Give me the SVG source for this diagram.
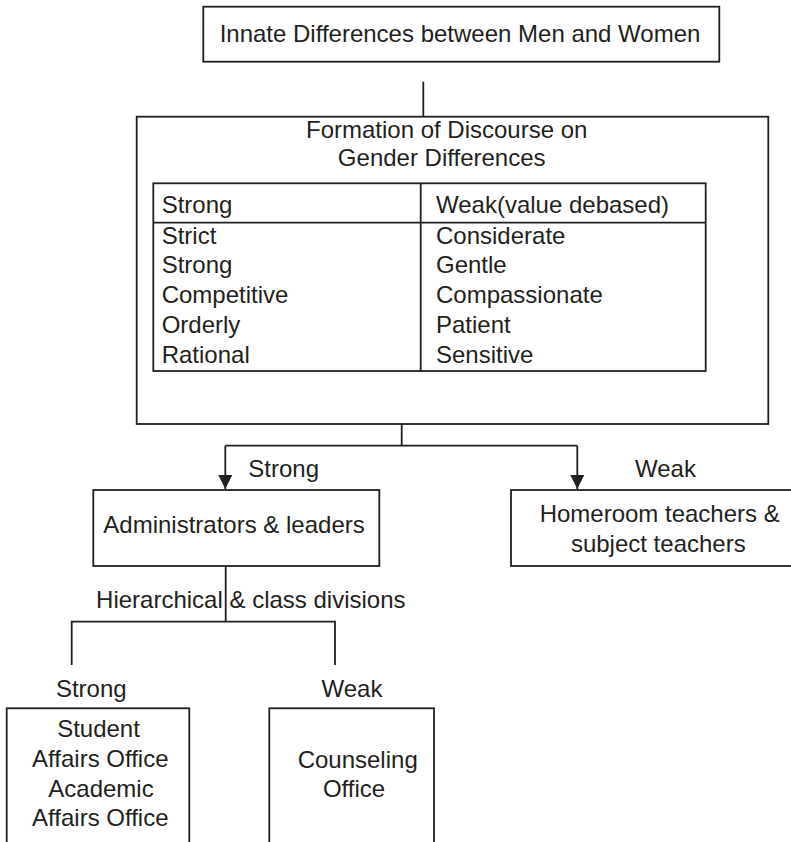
<svg xmlns="http://www.w3.org/2000/svg" width="791" height="842" viewBox="0 0 791 842">
<defs>
<style>
.box{fill:#fff;stroke:#231f20;stroke-width:1.8}
.ln{fill:none;stroke:#231f20;stroke-width:1.8}
.t{font-family:"Liberation Sans",Arial,sans-serif;font-size:24px;fill:#231f20}
.c{text-anchor:middle}
</style>
<marker id="arr" markerUnits="userSpaceOnUse" markerWidth="14" markerHeight="14" viewBox="0 0 14 14" refX="14" refY="7" orient="auto">
<path d="M0,0 L14,7 L0,14 Z" fill="#231f20"/>
</marker>
</defs>
<rect width="791" height="842" fill="#fff"/>
<g id="connectors">
<line class="ln" x1="423.3" y1="81.7" x2="423.3" y2="116.7"/>
<line class="ln" x1="401.7" y1="424" x2="401.7" y2="445.7"/>
<line class="ln" x1="225.3" y1="445.7" x2="577.3" y2="445.7"/>
<line class="ln" x1="225.3" y1="445.7" x2="225.3" y2="489" marker-end="url(#arr)"/>
<line class="ln" x1="577.3" y1="445.7" x2="577.3" y2="489" marker-end="url(#arr)"/>
<line class="ln" x1="225.7" y1="566" x2="225.7" y2="621.7"/>
<polyline class="ln" points="71.7,665 71.7,621.7 335,621.7 335,665"/>
<text class="t" x="248.3" y="477">Strong</text>
<text class="t" x="635" y="477">Weak</text>
<text class="t c" x="250.8" y="608.3">Hierarchical &amp; class divisions</text>
<text class="t c" x="91.3" y="697">Strong</text>
<text class="t c" x="352" y="697">Weak</text>
</g>
<g id="node-innate">
<rect class="box" x="203.3" y="6.7" width="516" height="55"/>
<text class="t c" x="460" y="41.7">Innate Differences between Men and Women</text>
</g>
<g id="node-formation">
<rect class="box" x="136.7" y="116.7" width="631.6" height="307.3"/>
<text class="t c" x="446.7" y="138">Formation of Discourse on</text>
<text class="t c" x="441.7" y="166">Gender Differences</text>
<rect class="box" x="153.3" y="183.3" width="552.4" height="187.7"/>
<line class="ln" x1="153.3" y1="222.7" x2="705.7" y2="222.7"/>
<line class="ln" x1="420.7" y1="183.3" x2="420.7" y2="371"/>
<text class="t" x="161.7" y="213.3">Strong</text>
<text class="t" x="161.7" y="244">Strict</text>
<text class="t" x="161.7" y="273">Strong</text>
<text class="t" x="161.7" y="303">Competitive</text>
<text class="t" x="161.7" y="333">Orderly</text>
<text class="t" x="161.7" y="362.5">Rational</text>
<text class="t" x="436" y="213.3">Weak(value debased)</text>
<text class="t" x="436" y="244">Considerate</text>
<text class="t" x="436" y="273">Gentle</text>
<text class="t" x="436" y="303">Compassionate</text>
<text class="t" x="436" y="333">Patient</text>
<text class="t" x="436" y="362.5">Sensitive</text>
</g>
<g id="node-admin">
<rect class="box" x="93.3" y="490" width="286" height="76"/>
<text class="t c" x="234" y="533.3">Administrators &amp; leaders</text>
</g>
<g id="node-homeroom">
<rect class="box" x="511" y="490" width="300" height="76"/>
<text class="t c" x="659.7" y="521.7">Homeroom teachers &amp;</text>
<text class="t c" x="658.3" y="551.7">subject teachers</text>
</g>
<g id="node-student">
<rect class="box" x="6.7" y="708.3" width="182.6" height="150"/>
<text class="t c" x="98.5" y="737">Student</text>
<text class="t c" x="100.3" y="767">Affairs Office</text>
<text class="t c" x="101" y="797">Academic</text>
<text class="t c" x="100.3" y="826">Affairs Office</text>
</g>
<g id="node-counseling">
<rect class="box" x="269.3" y="708.3" width="164.7" height="150"/>
<text class="t c" x="357.7" y="768.3">Counseling</text>
<text class="t c" x="354" y="796.7">Office</text>
</g>
</svg>
